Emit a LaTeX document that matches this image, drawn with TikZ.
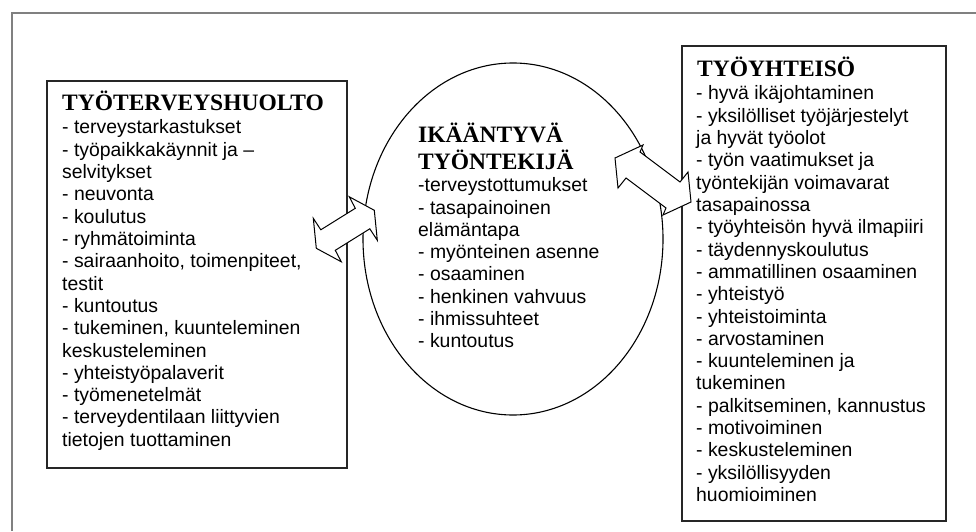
\documentclass[tikz,border=0pt]{standalone}
\usepackage{fontspec}
\usepackage{tikz}
\usetikzlibrary{shapes.geometric}
\newfontfamily\ikSans{Liberation Sans}
\newfontfamily\ikSerif{Liberation Serif}

\begin{document}
\begin{tikzpicture}[x=1pt,y=1pt]
  \path[use as bounding box] (0,0) rectangle (976,531);
  \tikzset{
    ikFrame/.style={draw=black!50, line width=1.3pt},
    ikBox/.style={
      draw=black!85, line width=1.8pt, inner sep=0pt,
      anchor=north west
    },
    ikOval/.style={ellipse, draw=black, line width=1.1pt, inner sep=0pt},
    ikLink/.style={draw=black, fill=white, line width=1pt, line join=miter},
    ikHead/.style={
      anchor=base west, inner sep=0pt,
      font=\ikSerif\bfseries\fontsize{23.5}{26}\selectfont
    },
    ikItem/.style={
      anchor=base west, inner sep=0pt,
      font=\ikSans\fontsize{19.4}{22.3}\selectfont
    }
  }

  % outer frame, only top and left edges are inside the page
  \draw[ikFrame] (12,0) |- (976,518);

  \node[ikBox, minimum width=300, minimum height=387] (health) at (46,451) {};
  \node[ikBox, minimum width=264, minimum height=475] (community) at (681,486) {};
  \node[ikOval, minimum width=300, minimum height=352] (worker) at (513,292) {};

  % sheared double block arrows, drawn over the box and oval edges
  \coordinate (leftLink) at (345.3,301.7);
  \coordinate (rightLink) at (653,351);
  \draw[ikLink, shift={(leftLink)}]
    (-32,11) -- (-24.5,-0.5) -- (10,21) -- (4,32.5) -- (29,19)
    -- (32,-11) -- (24.5,0.5) -- (-10,-21) -- (-4,-32.5) -- (-29,-19) -- cycle;
  \draw[ikLink, shift={(rightLink)}]
    (-10,35) -- (-38,22) -- (-35,-8) -- (-27,2) -- (13,-28)
    -- (10,-35) -- (38,-22) -- (35,8) -- (27,-2) -- (-13,28) -- cycle;

  % TYÖTERVEYSHUOLTO
  \node[ikHead] (healthHead) at (62,420) {TYÖTERVEYSHUOLTO};
  \foreach \txt [count=\i] in {- terveystarkastukset, - työpaikkakäynnit ja –,
      selvitykset, - neuvonta, - koulutus, - ryhmätoiminta,
      {- sairaanhoito, toimenpiteet,}, testit, - kuntoutus,
      {- tukeminen, kuunteleminen}, keskusteleminen, - yhteistyöpalaverit,
      - työmenetelmät, - terveydentilaan liittyvien, tietojen tuottaminen}
    \node[ikItem] (healthItem\i) at (62,{397-(\i-1)*22.3}) {\txt};

  % IKÄÄNTYVÄ TYÖNTEKIJÄ
  \node[ikHead] (workerHeadA) at (418,388) {IKÄÄNTYVÄ};
  \node[ikHead] (workerHeadB) at (418,361.7) {TYÖNTEKIJÄ};
  \foreach \txt [count=\i] in {-terveystottumukset, - tasapainoinen,
      elämäntapa, - myönteinen asenne, - osaaminen, - henkinen vahvuus,
      - ihmissuhteet, - kuntoutus}
    \node[ikItem] (workerItem\i) at (418,{339.3-(\i-1)*22.3}) {\txt};

  % TYÖYHTEISÖ
  \node[ikHead] (communityHead) at (697,454) {TYÖYHTEISÖ};
  \foreach \txt [count=\i] in {- hyvä ikäjohtaminen, - yksilölliset työjärjestelyt,
      ja hyvät työolot, - työn vaatimukset ja, työntekijän voimavarat,
      tasapainossa, - työyhteisön hyvä ilmapiiri, - täydennyskoulutus,
      - ammatillinen osaaminen, - yhteistyö, - yhteistoiminta, - arvostaminen,
      - kuunteleminen ja, tukeminen, {- palkitseminen, kannustus},
      - motivoiminen, - keskusteleminen, - yksilöllisyyden, huomioiminen}
    \node[ikItem] (communityItem\i) at (696,{431-(\i-1)*22.3}) {\txt};
\end{tikzpicture}
\end{document}
